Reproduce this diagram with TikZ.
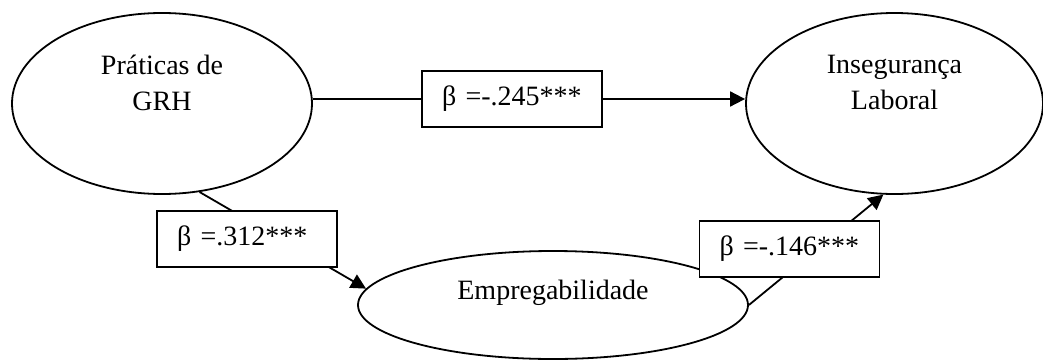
\documentclass[tikz,border=0pt]{standalone}
\usepackage{fontspec}
\setmainfont{Liberation Serif}
\usetikzlibrary{shapes.geometric,arrows.meta}
\begin{document}
\begin{tikzpicture}[x=1pt,y=-1pt,
  every node/.style={font=\fontsize{28}{36}\selectfont},
  latent/.style={draw, ellipse, line width=1.8pt, inner sep=0pt},
  coef/.style={draw, fill=white, line width=1.8pt, minimum height=56pt,
    text width=140pt, inner xsep=20pt, inner ysep=0pt, align=left},
  link/.style={line width=1.8pt},
  arr/.style={link, -{Triangle[length=15pt,width=15pt]}},
  caption/.style={align=center, inner sep=0pt}]
\useasboundingbox (0,0) rectangle (1043,359);

% latent variables
\node[latent, minimum width=300pt, minimum height=181pt] (grh) at (162,103.5) {};
\node[latent, minimum width=297pt, minimum height=181pt] (ins) at (894.5,103.5) {};
\node[latent, minimum width=390pt, minimum height=108pt] (emp) at (553,305) {};

\node[caption] (grhtxt) at ([yshift=21pt]grh.center) {Práticas de\\GRH};
\node[caption] (instxt) at ([yshift=21pt]ins.center) {Insegurança\\Laboral};
\node[caption] (emptxt) at ([yshift=12pt]emp.center) {Empregabilidade};

% indirect paths (drawn under the coefficient boxes)
\draw[arr] (grh.-67) -- (emp.175);
\draw[arr] (emp.east) -- (ins.-97);

% path coefficients
\node[coef] (b1) at (512,99) {β =-.245***};
\node[coef] (b2) at (247,239) {β =.312***};
\node[coef] (b3) at (789.5,249) {β =-.146***};

% direct path
\draw[link] (grh.east |- b1.west) -- (b1.west);
\draw[arr] (b1.east) -- (b1.east -| ins.west);
\end{tikzpicture}
\end{document}
